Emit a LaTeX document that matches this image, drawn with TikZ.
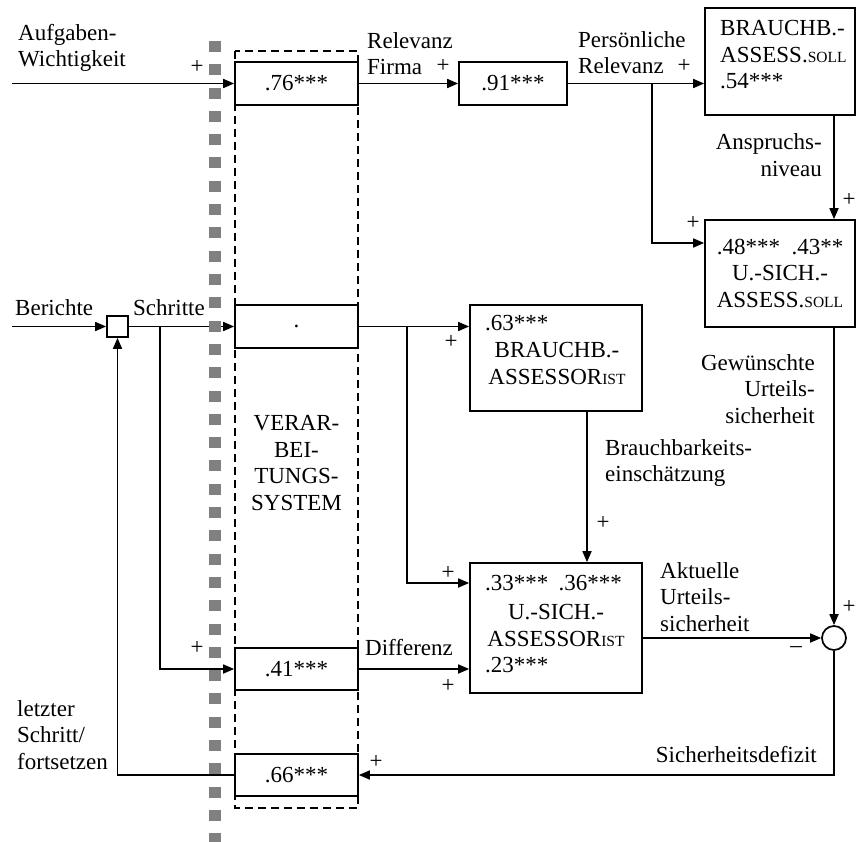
\documentclass[tikz,border=0pt]{standalone}
\usepackage{fontspec}
\setmainfont{Liberation Serif}
\usetikzlibrary{arrows.meta,calc}
\newcommand{\smc}[1]{{\fontsize{15.5}{15.5}\selectfont #1}}
\definecolor{sqgray}{RGB}{128,128,128}
\begin{document}
\begin{tikzpicture}[x=1pt,y=-1pt,
  font=\fontsize{23}{26.5}\selectfont,
  box/.style={draw, line width=1.7pt, inner sep=0pt, fill=white},
  lbl/.style={inner sep=0pt},
  arr/.style={line width=1.7pt, -{Triangle[length=11pt,width=9pt]}},
  dbox/.style={line width=1.4pt, dash pattern=on 8pt off 5pt},
]
\useasboundingbox (0,0) rectangle (856,842);

% dashed processing system
\draw[dbox] (235,51) rectangle (358,808);

% boxes
\node[box, minimum width=123pt, minimum height=43pt] (b76) at (296.5,83.5) {.76***};
\node[box, minimum width=108pt, minimum height=43pt] (b91) at (513,83.5) {.91***};
\node[box, minimum width=150pt, minimum height=107pt] (bsoll) at (780,61.5) {};
\node[lbl, anchor=west, align=left] (tsoll) at (720,55) {BRAUCHB.-\\ASSESS.\smc{SOLL}\\.54***};
\node[box, minimum width=150pt, minimum height=107pt, align=center] (usoll) at (780,273.5) {.48***\hspace{0.5em}.43**\\U.-SICH.-\\ASSESS.\smc{SOLL}};
\node[box, minimum width=21pt, minimum height=21pt] (sq) at (117.5,326.5) {};
\node[box, minimum width=123pt, minimum height=43pt] (bdot) at (296.5,326.5) {.};
\node[box, minimum width=172pt, minimum height=106pt] (bassist) at (556,358) {};
\node[lbl, anchor=west] (t63) at (485,323) {.63***};
\node[lbl, align=center] (tbassist) at (557,363.5) {BRAUCHB.-\\ASSESSOR\smc{IST}};
\node[box, minimum width=172pt, minimum height=130pt] (uassist) at (556,628) {};
\node[lbl, anchor=west] (t33) at (485,583) {.33***};
\node[lbl, anchor=east] (t36) at (622,583) {.36***};
\node[lbl, align=center] (tuassist) at (556,625.5) {U.-SICH.-\\ASSESSOR\smc{IST}};
\node[lbl, anchor=west] (t23) at (485,665) {.23***};
\node[box, minimum width=123pt, minimum height=42pt] (b41) at (296.5,669) {.41***};
\node[box, minimum width=123pt, minimum height=42pt] (b66) at (296.5,775) {.66***};
\node[draw, circle, line width=1.7pt, minimum size=24pt, inner sep=0pt, fill=white] (circ) at (834,638) {};
\node[lbl, align=center] (tsys) at (296.5,463) {VERAR-\\BEI-\\TUNGS-\\SYSTEM};

% helper coordinates
\coordinate (in1) at (12,83.5);
\coordinate (j1) at (652,83.5);
\coordinate (xr) at (834,0);
\coordinate (in2) at (12,326.5);
\coordinate (j2) at (407,326.5);
\coordinate (j3) at (160,326.5);
\coordinate (xm) at (587,0);

% connectors
\draw[arr] (in1) -- (b76.west);
\draw[arr] (b76.east) -- (b91.west);
\draw[arr] (b91.east) -- (b91.east -| bsoll.west);
\draw[arr] (j1) |- ($(usoll.west)+(0,-30.5)$);
\draw[arr] (bsoll.south -| xr) -- (usoll.north -| xr);
\draw[arr] (in2) -- (sq.west);
\draw[arr] (sq.east) -- (bdot.west);
\draw[arr] (bdot.east) -- (bdot.east -| bassist.west);
\draw[arr] (j2) |- ($(uassist.west)+(0,-45)$);
\draw[arr] (bassist.south -| xm) -- (uassist.north -| xm);
\draw[arr] (j3) |- (b41.west);
\draw[arr] (b41.east) -- (b41.east -| uassist.west);
\draw[arr] (uassist.east |- circ.west) -- (circ.west);
\draw[arr] (usoll.south -| xr) -- (circ.north);
\draw[arr] (circ.south) |- (b66.east);
\draw[arr] (b66.west) -| (sq.south);

% labels
\node[lbl, anchor=west, align=left] (la) at (18,48) {Aufgaben-\\Wichtigkeit};
\node[lbl] (p1) at (197,67) {+};
\node[lbl, anchor=west, align=left] (lrf) at (367,53.5) {Relevanz\\Firma};
\node[lbl] (p2) at (443,66) {+};
\node[lbl, anchor=west, align=left] (lpr) at (578,52.5) {Persönliche\\Relevanz};
\node[lbl] (p3) at (684,66) {+};
\node[lbl, anchor=east, align=right] (lan) at (822,155) {Anspruchs-\\niveau};
\node[lbl] (p4) at (849,200) {+};
\node[lbl] (p5) at (693,223) {+};
\node[lbl, anchor=west] (lber) at (15,308) {Berichte};
\node[lbl, anchor=west] (lsch) at (133,308) {Schritte};
\node[lbl] (p6) at (451,342) {+};
\node[lbl, anchor=east, align=right] (lgew) at (815,389) {Gewünschte\\Urteils-\\sicherheit};
\node[lbl, anchor=west, align=left] (lbr) at (605,463) {Brauchbarkeits-\\einschätzung};
\node[lbl] (p7) at (603,523) {+};
\node[lbl] (p8) at (448,573) {+};
\node[lbl, anchor=west, align=left] (lakt) at (660,597) {Aktuelle\\Urteils-\\sicherheit};
\node[lbl] (p9) at (849,607) {+};
\node[lbl] (m1) at (796,650) {–};
\node[lbl] (p10) at (197,648) {+};
\node[lbl, anchor=west] (ldiff) at (365,648) {Differenz};
\node[lbl] (p11) at (448,686) {+};
\node[lbl, anchor=west, align=left] (llet) at (17,735) {letzter\\Schritt/\\fortsetzen};
\node[lbl, anchor=east] (lsd) at (817,755) {Sicherheitsdefizit};
\node[lbl] (p12) at (376,762) {+};

% gray dotted separator
\foreach \i in {0,...,34} \fill[sqgray] (209,{41+23.3*\i}) rectangle ++(12,11);
\end{tikzpicture}
\end{document}
